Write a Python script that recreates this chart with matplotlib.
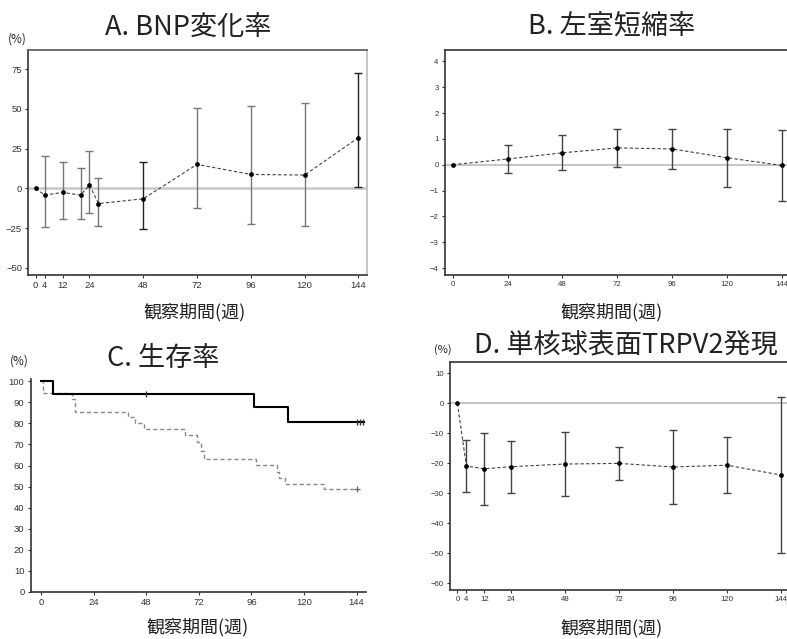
import matplotlib
matplotlib.use("Agg")
import matplotlib.pyplot as plt
import numpy as np

plt.rcParams["font.family"] = ["Liberation Sans", "DejaVu Sans"]
JP = ["Noto Sans CJK JP", "DejaVu Sans"]

# A. BNP change rate (%)
a_week = [0, 4, 12, 20, 24, 28, 48, 72, 96, 120, 144]
a_mean = [0, -4.2, -2.5, -4.2, 2.1, -9.5, -6.5, 15.1, 8.8, 8.4, 31.9]
a_low = [np.nan, -24.0, -18.9, -18.9, -15.3, -23.3, -25.2, -12.0, -22.3, -23.7, 0.8]
a_high = [np.nan, 20.6, 16.8, 13.0, 23.5, 6.7, 16.8, 50.4, 52.1, 53.6, 72.5]
a_xticks = [0, 4, 12, 24, 48, 72, 96, 120, 144]
a_yticks = [-50, -25, 0, 25, 50, 75]

# B. LV fractional shortening
b_week = [0, 24, 48, 72, 96, 120, 144]
b_mean = [0, 0.22, 0.46, 0.65, 0.61, 0.27, -0.03]
b_low = [np.nan, -0.32, -0.22, -0.10, -0.17, -0.85, -1.39]
b_high = [np.nan, 0.75, 1.15, 1.38, 1.37, 1.39, 1.34]
b_xticks = [0, 24, 48, 72, 96, 120, 144]
b_yticks = [-4, -3, -2, -1, 0, 1, 2, 3, 4]

# C. survival (%)
c_trt_t = [0, 5.6, 97.4, 112.8, 147.5]
c_trt_s = [100, 94.1, 87.8, 80.7, 80.7]
c_trt_cens_t = [48, 144, 145.5, 147]
c_trt_cens_s = [94.1, 80.7, 80.7, 80.7]
c_ctl_t = [0, 1, 14.2, 15.7, 39.5, 43, 46.9, 65.5, 71, 73, 74.3, 97.9,
           107.5, 108.5, 111.5, 129, 144]
c_ctl_s = [100, 94.3, 91.5, 85.4, 83.0, 80.2, 77.3, 74.6, 71.2, 67.0, 63.0,
           60.1, 57.0, 54.3, 51.4, 48.6, 48.6]
c_ctl_cens_t = [144]
c_ctl_cens_s = [48.6]
c_xticks = [0, 24, 48, 72, 96, 120, 144]
c_yticks = [0, 10, 20, 30, 40, 50, 60, 70, 80, 90, 100]

# D. monocyte surface TRPV2 expression (%)
d_week = [0, 4, 12, 24, 48, 72, 96, 120, 144]
d_mean = [0, -20.9, -21.8, -21.1, -20.2, -20.0, -21.2, -20.6, -23.9]
d_low = [np.nan, -29.5, -33.8, -29.8, -31.0, -25.6, -33.4, -29.9, -50.0]
d_high = [np.nan, -12.2, -9.7, -12.4, -9.4, -14.4, -8.8, -11.2, 2.2]
d_xticks = [0, 4, 12, 24, 48, 72, 96, 120, 144]
d_yticks = [-60, -50, -40, -30, -20, -10, 0, 10]

W, H = 787, 639
fig = plt.figure(figsize=(W / 100, H / 100), dpi=100)


def px_axes(left, top, right, bottom):
    return fig.add_axes([left / W, 1 - bottom / H, (right - left) / W, (bottom - top) / H])


def ftext(x, y, s, size, **kw):
    fig.text(x / W, 1 - y / H, s, fontsize=size, ha="center", va="center",
             family=JP, color="#222222", **kw)


def style(ax, xticks, yticks, fs):
    ax.set_xticks(xticks)
    ax.set_yticks(yticks)
    ax.tick_params(direction="out", length=2.5, width=0.8, colors="#333333",
                   labelsize=fs, pad=2)
    for s in ax.spines.values():
        s.set_color("#333333")
        s.set_linewidth(1.2)


def err_series(ax, x, m, lo, hi, colors, cap):
    for xi, mi, l, h, c in zip(x, m, lo, hi, colors):
        if np.isnan(l):
            continue
        ax.errorbar(xi, mi, yerr=[[mi - l], [h - mi]], fmt="none", ecolor=c,
                    elinewidth=1.0, capsize=cap, capthick=1.0, zorder=2)
    ax.plot(x, m, ls=(0, (3, 2)), lw=0.8, color="#444444", marker="o", ms=2.4,
            mfc="black", mec="black", zorder=3)


# ---- A
ax = px_axes(28.3, 50, 366.7, 275)
ax.axhline(0, color="#c8c8c8", lw=1.8, zorder=1)
a_cols = ["#777777"] * len(a_week)
a_cols[6] = "#222222"
a_cols[10] = "#222222"
err_series(ax, a_week, a_mean, a_low, a_high, a_cols, 2.8)
ax.set_xlim(-3.3, 147.7)
ax.set_ylim(-54.4, 87)
style(ax, a_xticks, a_yticks, 6.8)
ax.spines["right"].set_color("#bbbbbb")
ax.spines["top"].set_color("#555555")
ftext(188, 27, "A. BNP変化率", 19.5)
ftext(17, 39, "(%)", 8.5)
ftext(195, 312, "観察期間(週)", 13)

# ---- B
ax = px_axes(445, 50, 788, 275)
ax.axhline(0, color="#bbbbbb", lw=1.2, zorder=1)
err_series(ax, b_week, b_mean, b_low, b_high, ["#444444"] * len(b_week), 3)
ax.set_xlim(-3.4, 146.7)
ax.set_ylim(-4.27, 4.44)
style(ax, b_xticks, b_yticks, 5.6)
ftext(612, 27, "B. 左室短縮率", 19.5)
ftext(612, 312, "観察期間(週)", 13)

# ---- C
ax = px_axes(30.7, 379.3, 366, 591.7)
ax.step(c_ctl_t, c_ctl_s, where="post", color="#888888", lw=1.0, ls=(0, (3, 2)))
ax.step(c_trt_t, c_trt_s, where="post", color="black", lw=1.5)
ax.plot(c_trt_cens_t, c_trt_cens_s, ls="none", marker="|", ms=5, mew=1.0, color="#333333")
ax.plot(c_ctl_cens_t, c_ctl_cens_s, ls="none", marker="+", ms=5, mew=0.9, color="#666666")
ax.set_xlim(-4.7, 148.3)
ax.set_ylim(0, 101)
style(ax, c_xticks, c_yticks, 6.8)
ax.spines["top"].set_visible(False)
ax.spines["right"].set_visible(False)
ftext(163, 358, "C. 生存率", 19.5)
ftext(19, 361, "(%)", 8.5)
ftext(198, 627, "観察期間(週)", 13)

# ---- D
ax = px_axes(450, 362.3, 788, 590)
ax.axhline(0, color="#bbbbbb", lw=1.2, zorder=1)
err_series(ax, d_week, d_mean, d_low, d_high, ["#444444"] * len(d_week), 3)
ax.set_xlim(-3.3, 147.1)
ax.set_ylim(-62.2, 13.7)
style(ax, d_xticks, d_yticks, 5.6)
ftext(626, 345, "D. 単核球表面TRPV2発現", 19.5)
ftext(443, 350, "(%)", 8)
ftext(612, 628, "観察期間(週)", 13)

fig.savefig("out.png", dpi=100)
